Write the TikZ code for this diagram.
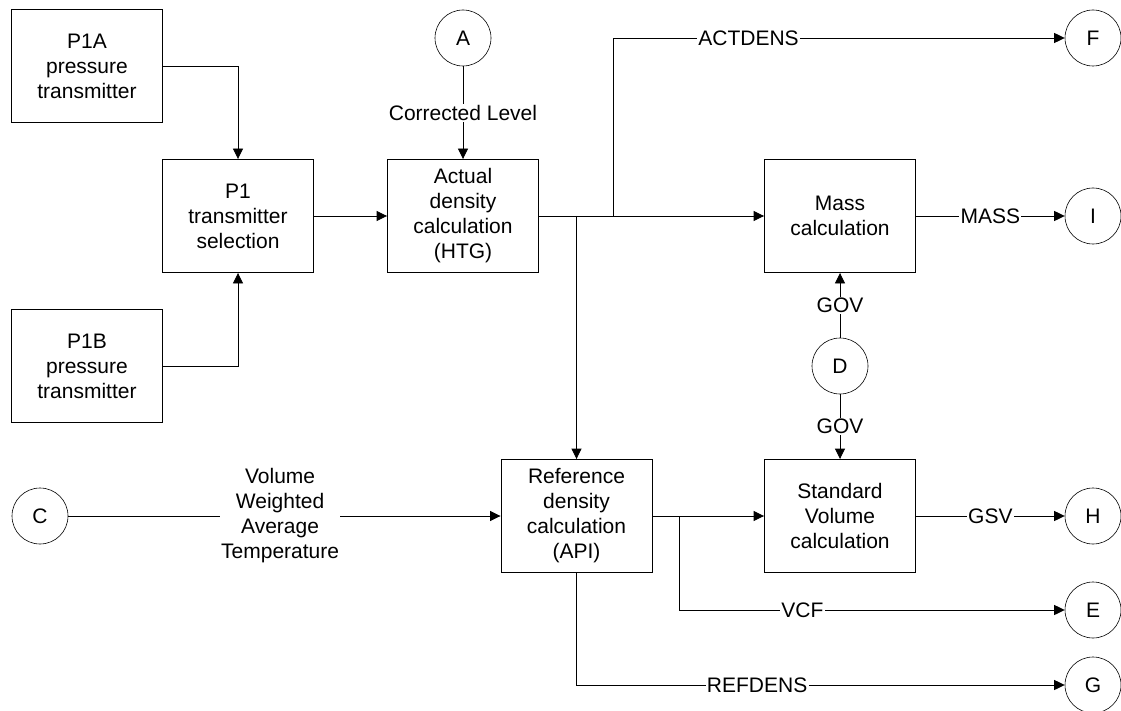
\documentclass[tikz,border=0pt]{standalone}
\usepackage{fontspec}
\setmainfont{Liberation Sans}
\usetikzlibrary{arrows.meta}
\begin{document}
\begin{tikzpicture}[x=1pt,y=-1pt,
  every node/.style={font=\fontsize{21}{25}\selectfont},
  box/.style={draw, line width=0.9pt, minimum width=151pt, minimum height=113pt, align=center, inner sep=0pt},
  term/.style={draw, circle, line width=0.6pt, minimum size=56pt, inner sep=0pt},
  conn/.style={line width=0.9pt},
  arr/.style={conn, -{Triangle[length=10.5pt,width=10pt]}},
  lbl/.style={fill=white, inner sep=1.2pt, align=center}]
\useasboundingbox (0,0) rectangle (1121,711);

% boxes
\node[box] (p1a)  at (87,66)    {P1A\\pressure\\transmitter};
\node[box] (p1b)  at (87,366)   {P1B\\pressure\\transmitter};
\node[box] (p1)   at (238,216)  {P1\\transmitter\\selection};
\node[box] (act)  at (463,216)  {Actual\\density\\calculation\\(HTG)};
\node[box] (mass) at (840,216)  {Mass\\calculation};
\node[box] (ref)  at (576.5,516){Reference\\density\\calculation\\(API)};
\node[box] (std)  at (840,516)  {Standard\\Volume\\calculation};

% connectors (circles)
\node[term] (A) at (463,38)   {A};
\node[term] (F) at (1093,38)  {F};
\node[term] (I) at (1093,216) {I};
\node[term] (D) at (840,366)  {D};
\node[term] (C) at (40,516)   {C};
\node[term] (H) at (1093,516) {H};
\node[term] (E) at (1093,610) {E};
\node[term] (G) at (1093,685) {G};

% junctions
\coordinate (j1) at (613,216);
\coordinate (j2) at (ref.north |- act.east);
\coordinate (j3) at (679,516);

% flows
\draw[arr] (p1a.east) -| (p1.north);
\draw[arr] (p1b.east) -| (p1.south);
\draw[arr] (p1) -- (act);
\draw[arr] (A) -- node[lbl]{Corrected Level} (act);
\draw[arr] (act.east) -- (mass.west);
\draw[arr] (j1) |- node[lbl,pos=0.65]{ACTDENS} (F);
\draw[arr] (j2) -- (ref.north);
\draw[arr] (mass) -- node[lbl]{MASS} (I);
\draw[arr] (D) -- node[lbl]{GOV} (mass);
\draw[arr] (D) -- node[lbl]{GOV} (std);
\draw[arr] (C) -- node[lbl,pos=0.49]{Volume\\Weighted\\Average\\Temperature} (ref);
\draw[arr] (ref) -- (std);
\draw[arr] (j3) |- node[lbl,pos=0.66]{VCF} (E);
\draw[arr] (ref.south) |- node[lbl,pos=0.685]{REFDENS} (G);
\draw[arr] (std) -- node[lbl]{GSV} (H);
\end{tikzpicture}
\end{document}
